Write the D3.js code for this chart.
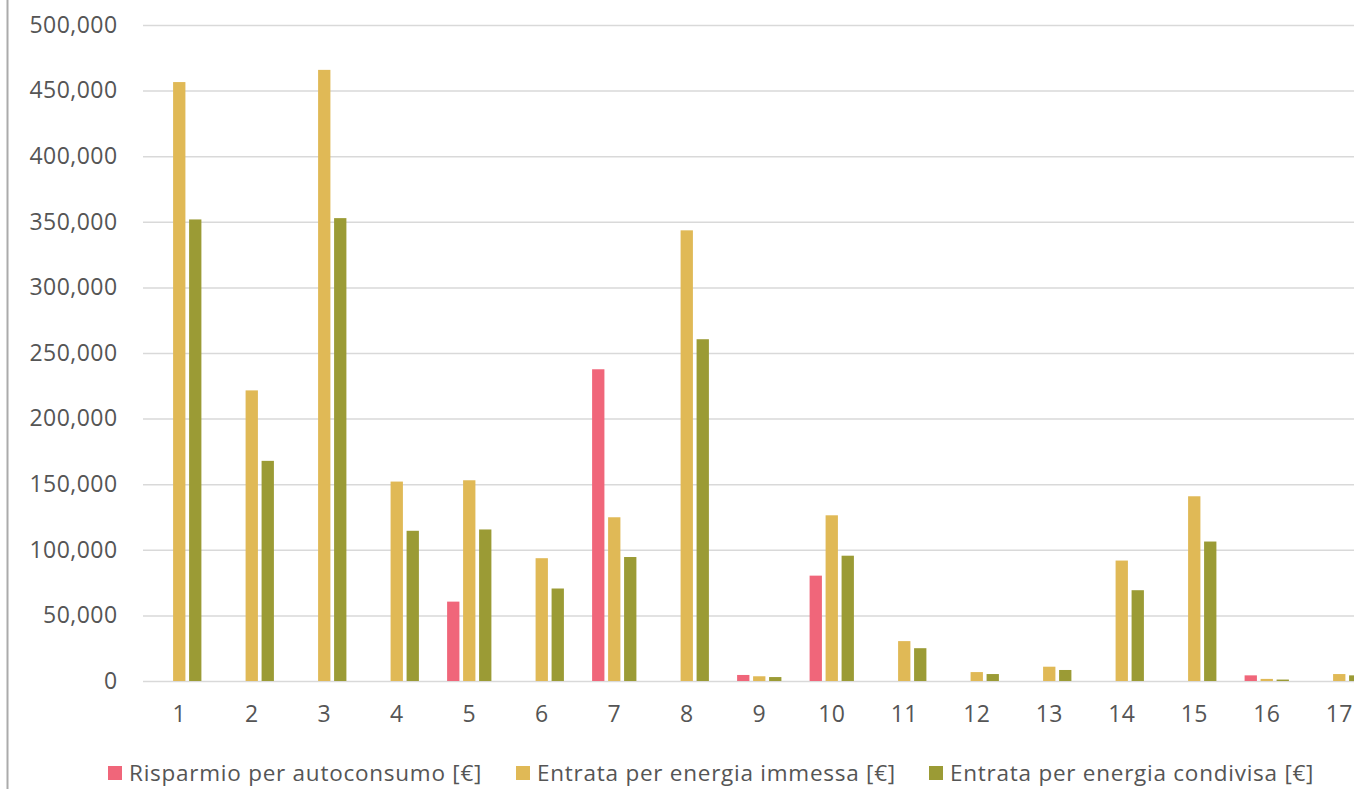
<!DOCTYPE html>
<html>
<head>
<meta charset="utf-8">
<script src="https://cdn.jsdelivr.net/npm/d3@7"></script>
<style>
  html, body { margin: 0; padding: 0; background: #fff; overflow: hidden; }
  svg { display: block; }
  text { font-family: "Open Sans", "Noto Sans", sans-serif; fill: #555555; }
</style>
</head>
<body>
<svg id="chart" width="1354" height="789"></svg>
<script>
const categories = ["1","2","3","4","5","6","7","8","9","10","11","12","13","14","15","16","17"];
const seriesNames = ["Risparmio per autoconsumo [€]", "Entrata per energia immessa [€]", "Entrata per energia condivisa [€]"];
const risparmio = [0, 0, 0, 0, 60500, 0, 237600, 0, 4600, 80300, 0, 0, 0, 0, 0, 4300, 0];
const immessa   = [456500, 221500, 465800, 152000, 153000, 93600, 124800, 343500, 3600, 126300, 30400, 6800, 10900, 91800, 140800, 1600, 5300];
const condivisa = [351800, 167800, 352800, 114500, 115500, 70500, 94500, 260500, 3000, 95500, 25000, 5300, 8400, 69200, 106300, 1100, 4300];
const colors = ["#F0667A", "#E0B956", "#9B9B35"];
const yTicks = [0, 50000, 100000, 150000, 200000, 250000, 300000, 350000, 400000, 450000, 500000];

const seriesData = [risparmio, immessa, condivisa];
const svg = d3.select("#chart");

const plotLeft = 143, plotTop = 25, plotBottom = 681, band = 72.5;
const x0 = d3.scaleBand().domain(categories).range([plotLeft, plotLeft + band * categories.length]).padding(0);
const groupW = 44.3;
const x1 = d3.scaleBand().domain(d3.range(3)).range([-groupW / 2, groupW / 2]).paddingInner(0.23).paddingOuter(0);
const y = d3.scaleLinear().domain([0, 500000]).range([plotBottom, plotTop]);

// left frame border
svg.append("line").attr("x1", 7.5).attr("x2", 7.5).attr("y1", 0).attr("y2", 789)
  .attr("stroke", "#ababab").attr("stroke-width", 2);

// gridlines + y labels
const yAxis = d3.axisLeft(y).tickValues(yTicks).tickSize(-(1354 - plotLeft)).tickPadding(25.5)
  .tickFormat(d3.format(","));
const gy = svg.append("g").attr("transform", `translate(${plotLeft},0)`).call(yAxis);
gy.select(".domain").remove();
gy.selectAll(".tick line").attr("stroke", "#d9d9d9").attr("stroke-width", 1.5);
gy.selectAll(".tick text").attr("font-size", 23).attr("fill", "#555555")
  .attr("letter-spacing", "0.45px")
  .style("font-family", '"Open Sans", sans-serif');

// bars
const groups = svg.append("g").selectAll("g").data(categories).join("g")
  .attr("transform", d => `translate(${x0(d) + x0.bandwidth() / 2},0)`);
groups.selectAll("rect").data((d, i) => seriesData.map((s, k) => ({ k, v: s[i] })))
  .join("rect")
  .attr("x", d => x1(d.k))
  .attr("width", x1.bandwidth())
  .attr("y", d => y(d.v))
  .attr("height", d => plotBottom - y(d.v))
  .attr("fill", d => colors[d.k]);

// x axis labels
const xAxis = d3.axisBottom(x0).tickSize(0).tickPadding(25);
const gx = svg.append("g").attr("transform", `translate(0,${plotBottom})`).call(xAxis);
gx.select(".domain").remove();
gx.selectAll(".tick text").attr("font-size", 23).attr("fill", "#555555")
  .attr("letter-spacing", "0.45px")
  .style("font-family", '"Open Sans", sans-serif');

// legend
const legendX = [108, 516, 929];
const lg = svg.append("g").selectAll("g").data(seriesNames).join("g")
  .attr("transform", (d, i) => `translate(${legendX[i]},773.5)`);
lg.append("rect").attr("x", 0).attr("y", -7.5).attr("width", 14).attr("height", 14)
  .attr("fill", (d, i) => colors[i]);
lg.append("text").attr("x", 21).attr("y", 0).attr("dy", "0.35em")
  .attr("font-size", 22.5).attr("letter-spacing", "0.75px").text(d => d);
</script>
</body>
</html>
